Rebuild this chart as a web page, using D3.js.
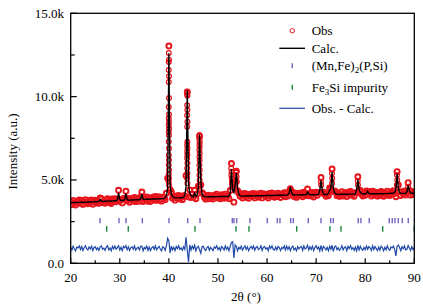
<!DOCTYPE html>
<html><head><meta charset="utf-8">
<script src="https://cdn.jsdelivr.net/npm/d3@7"></script>
<style>body{margin:0;background:#fff}svg{display:block}text{font-family:"Liberation Serif","Times New Roman",Times,serif;font-size:13px;fill:#000}</style>
</head><body><svg id="c" width="423" height="307" font-family="Liberation Serif, Times New Roman, serif"></svg>
<script>
// ---- data ----
const thetaStart = 20, thetaStep = 0.25; // 2θ sampling of the profile arrays
const calcI = [
3640,3640,3645,3645, 3650,3650,3655,3655, 3660,3660,3665,3665, 3670,3670,3675,3675, 3680,3680,3685,3685,
3690,3690,3695,3730, 3825,3735,3710,3715, 3720,3725,3730,3730, 3735,3740,3745,3745, 3750,3755,3810,4220,
3840,3765,3765,3770, 3830,4180,3830,3785, 3790,3795,3800,3800, 3805,3810,3810,3815, 3815,3860,4150,3860,
3830,3835,3840,3840, 3845,3850,3850,3855, 3855,3860,3865,3865, 3870,3875,3880,3880, 3885,3950,4050,4500,
12600,4700,4150,4000, 3950,3930,3925,3925, 3925,3930,3930,3940, 3960,4100,4600,10380, 4800,4200,4060,4010,
4000,4200,4020,4100, 4500,7720,5000,4150, 4030,4000,3990,3985, 3990,3990,3990,3995, 3995,3995,4000,4000,
4000,4000,4005,4005, 4005,4005,4010,4010, 4010,4030,4250,5640, 4400,4250,4700,5420, 4500,4150,4060,4040,
4030,4030,4035,4035, 4035,4040,4060,4040, 4040,4045,4045,4050, 4050,4050,4055,4055, 4055,4055,4060,4060,
4080,4065,4065,4070, 4070,4070,4075,4075, 4090,4080,4085,4085, 4085,4085,4090,4090, 4090,4110,4200,4580,
4250,4120,4100,4100, 4105,4105,4105,4110, 4110,4110,4110,4110, 4120,4280,4150,4120, 4115,4115,4115,4120,
4120,4120,4150,4400, 4980,4350,4150,4130, 4125,4130,4200,4400, 4500,5480,4500,4250, 4160,4140,4135,4135,
4140,4140,4140,4145, 4145,4145,4150,4150, 4150,4150,4150,4155, 4170,4400,5020,4450, 4250,4180,4160,4160,
4160,4200,4330,4200, 4170,4170,4170,4170, 4170,4170,4170,4175, 4175,4175,4175,4175, 4180,4180,4180,4190,
4190,4200,4200,4220, 4250,4450,5380,4500, 4250,4210,4195,4195, 4195,4200,4300,4680, 4350,4220,4200,4200,
4200];
// Obs. - Calc. at the same 2θ points
const residI = [
60,-110,130,-40, -150,80,20,140, -70,110,-130,30, 150,-20,-100,90, -40,120,-140,50,
100,-80,30,-130, 90,140,-60,10, -120,70,150,-90, 20,-150,110,-30, 130,-60,40,160,
-100,60,-140,120, 30,150,-80,100, -130,40,90,-60, 140,-110,10,70, -90,120,130,-150,
50,-30,140,-120, 80,-140,30,110, -60,150,-90,20, 120,-40,-150,90, 40,-130,150,600,
440,-280,130,-90, 60,-140,110,-20, 150,-70,30,-120, 90,-60,660,-100, -820,200,-110,140,
-30,180,-150,60, 120,-90,-300,80, 130,-50,-140,40, 100,-120,60,-30, -140,90,10,150,
-80,40,-130,110, 20,-100,140,-60, 70,-150,120,350, 390,-580,200,100, -150,60,-40,130,
-110,30,150,-70, 90,-140,20,120, -30,140,-120,50, 110,-80,-20,150, -130,70,100,-50,
40,-150,130,-10, 150,-60,-110,80, -90,120,40,-140, 60,-20,140,-100, 130,-70,100,-140,
50,140,-90,20, -150,100,-30,70, 110,-120,150,-40, 20,180,-100,90, -70,130,-140,60,
150,-40,80,-160, 170,-130,110,30, -100,60,-150,120, -60,180,-190,90, 140,-80,30,-120,
-30,150,-100,50, 90,-140,120,-20, 160,-60,40,-130, 70,-160,170,-100, 120,-40,-120,60,
-80,140,-60,110, 30,-130,150,-70, 100,-20,-140,80, -110,130,40,-150, 60,-90,150,-40,
-120,80,20,130, -60,-460,120,200, 50,-140,90,-30, 140,-100,-60,160, 20,-130,110,-80,
40];
// extra observed points on the steep peak flanks
const peakObsTheta = [
39.98,40.02,39.97,40.03,39.98,40.02,39.97,40.03,39.98,40.02,39.97,40.03,39.98,40.02,39.97,40.03,39.98,40.02,39.97,40.03,39.98,40.02,39.97,40.03,39.98,
43.73,43.77,43.72,43.78,43.73,43.77,43.72,43.78,43.73,43.77,43.72,43.78,43.73,43.77,43.72,43.78,43.73,43.77,43.72,43.78,
46.23,46.27,46.22,46.28,46.23,46.27,46.22,46.28,46.23,46.27,46.22,46.28,46.23,46.27,46.22,
52.70,52.78,52.72,52.80,52.85,52.90,53.60,53.65,53.70,53.72,53.80,53.85,53.10,53.40,53.30,53.55,
64.72,70.98,71.03,73.22,73.28,73.24,78.48,78.52,86.47,86.53,86.45,88.73];
const peakObsI = [
12620,12220,12080,11220,10880,9920,9380,8930,8690,8480,8290,8090,7890,7690,7290,6890,6490,6200,5900,5600,5350,5100,4900,4700,11600,
10300,10250,10150,10050,9480,9200,8880,8500,8200,7300,7100,6900,6700,6500,6300,6000,5700,5400,5100,4800,
7700,7600,7450,7300,7150,7000,6800,6600,6400,6190,5900,5600,5300,5000,4700,
5700,5500,5300,5100,4900,4700,5000,5300,5450,5500,5200,4900,4600,4800,4500,4700,
4500,4900,4700,5400,5100,4800,4950,4700,5300,5000,4700,4600];
// reflection positions
const mnfeTicks = [25.97,29.84,31.27,34.59,40.02,43.83,46.34,52.92,53.27,53.82,56.52,60.05,62.09,62.63,64.81,65.34,68.40,70.99,72.96,73.49,78.58,79.13,80.82,84.90,85.51,86.06,86.73,87.55,88.77];
const fe3siTicks = [27.33,31.73,45.32,53.67,56.32,66.04,72.82,75.06,83.56,89.99];
const diffOffset = 900;
const xTicks = [20,30,40,50,60,70,80,90];
const xMinorTicks = [25,35,45,55,65,75,85];
const yTicks = [0,5000,10000,15000];
const yTickLabels = ["0.0","5.0k","10.0k","15.0k"];
const yMinorTicks = [2500,7500,12500];

// ---- drawing ----
const svg = d3.select("#c");
const L=70.7, R=414.3, T=13.3, B=263.3;
const x = d3.scaleLinear().domain([20,90]).range([L,R]);
const y = d3.scaleLinear().domain([0,15000]).range([B,T]);
const RED="#e8141c", BLUE="#1f49a8", PURPLE="#7464c0", GREEN="#1b8a3c";
const FONT = "Liberation Serif, Times New Roman, serif";

const grid = calcI.map((c,i)=>({t: thetaStart + i*thetaStep, calc: c, resid: residI[i]}));
const obsGrid = grid.map(d=>({t:d.t, v:d.calc + d.resid}));
const obsPeak = peakObsTheta.map((t,i)=>({t, v: peakObsI[i]}));

svg.append("clipPath").attr("id","clip").append("rect").attr("x",L).attr("y",T).attr("width",R-L).attr("height",B-T);
const g = svg.append("g").attr("clip-path","url(#clip)");

g.selectAll("circle.obs").data(obsGrid).join("circle").attr("class","obs")
  .attr("cx",d=>x(d.t)).attr("cy",d=>y(d.v)).attr("r",2.5)
  .attr("fill","none").attr("stroke",RED).attr("stroke-width",1.9);
g.selectAll("circle.obsp").data(obsPeak).join("circle").attr("class","obsp")
  .attr("cx",d=>x(d.t)).attr("cy",d=>y(d.v)).attr("r",2.4)
  .attr("fill","none").attr("stroke",RED).attr("stroke-width",1.2);

g.append("path").datum(grid).attr("fill","none").attr("stroke","#000").attr("stroke-width",1.4)
  .attr("d", d3.line().x(d=>x(d.t)).y(d=>y(d.calc)));

g.append("path").datum(grid).attr("fill","none").attr("stroke",BLUE).attr("stroke-width",1.2)
  .attr("d", d3.line().x(d=>x(d.t)).y(d=>y(d.resid + diffOffset)));

g.selectAll("line.p1").data(mnfeTicks).join("line").attr("class","p1")
  .attr("x1",d=>x(d)).attr("x2",d=>x(d)).attr("y1",y(2720)).attr("y2",y(2400))
  .attr("stroke",PURPLE).attr("stroke-width",1.4);
g.selectAll("line.p2").data(fe3siTicks).join("line").attr("class","p2")
  .attr("x1",d=>x(d)).attr("x2",d=>x(d)).attr("y1",y(2240)).attr("y2",y(1900))
  .attr("stroke",GREEN).attr("stroke-width",1.4);

// frame
svg.append("rect").attr("x",L).attr("y",T).attr("width",R-L).attr("height",B-T)
  .attr("fill","none").attr("stroke","#000").attr("stroke-width",1.3);

// ticks (inward)
svg.selectAll("line.xt").data(xTicks).join("line").attr("class","xt")
  .attr("x1",d=>x(d)).attr("x2",d=>x(d)).attr("y1",B).attr("y2",B-5).attr("stroke","#000").attr("stroke-width",1.2);
svg.selectAll("line.xm").data(xMinorTicks).join("line").attr("class","xm")
  .attr("x1",d=>x(d)).attr("x2",d=>x(d)).attr("y1",B).attr("y2",B-3).attr("stroke","#000").attr("stroke-width",1.2);
svg.selectAll("text.xl").data(xTicks).join("text").attr("class","xl").attr("font-family",FONT)
  .attr("x",d=>x(d)).attr("y",281.5).attr("text-anchor","middle").text(d=>d);

svg.selectAll("line.yt").data(yTicks).join("line").attr("class","yt")
  .attr("x1",L).attr("x2",L+6).attr("y1",d=>y(d)).attr("y2",d=>y(d)).attr("stroke","#000").attr("stroke-width",1.2);
svg.selectAll("line.ym").data(yMinorTicks).join("line").attr("class","ym")
  .attr("x1",L).attr("x2",L+4).attr("y1",d=>y(d)).attr("y2",d=>y(d)).attr("stroke","#000").attr("stroke-width",1.2);
svg.selectAll("text.yl").data(yTicks).join("text").attr("class","yl").attr("font-family",FONT)
  .attr("x",64).attr("y",d=>y(d)+4.5).attr("text-anchor","end").text((d,i)=>yTickLabels[i]);

svg.append("text").attr("font-family",FONT).attr("transform","translate(16.5,151.5) rotate(-90)").attr("text-anchor","middle").text("Intensity (a.u.)");
svg.append("text").attr("font-family",FONT).attr("x",246).attr("y",301).attr("text-anchor","middle").text("2θ (°)");

// legend
const lx=292.3, tx=311.7;
svg.append("circle").attr("cx",lx).attr("cy",30.7).attr("r",2.2).attr("fill","none").attr("stroke",RED).attr("stroke-width",1);
svg.append("text").attr("font-family",FONT).attr("x",tx).attr("y",35).text("Obs");
svg.append("line").attr("x1",279.3).attr("x2",305).attr("y1",48.3).attr("y2",48.3).attr("stroke","#000").attr("stroke-width",1.4);
svg.append("text").attr("font-family",FONT).attr("x",tx).attr("y",52.6).text("Calc.");
svg.append("line").attr("x1",lx).attr("x2",lx).attr("y1",63.2).attr("y2",68.2).attr("stroke",PURPLE).attr("stroke-width",1.4);
const t3 = svg.append("text").attr("font-family",FONT).attr("x",tx).attr("y",70);
t3.append("tspan").text("(Mn,Fe)");
t3.append("tspan").attr("dy",3).attr("font-size","9px").text("2");
t3.append("tspan").attr("dy",-3).text("(P,Si)");
svg.append("line").attr("x1",lx).attr("x2",lx).attr("y1",84.8).attr("y2",89.8).attr("stroke",GREEN).attr("stroke-width",1.4);
const t4 = svg.append("text").attr("font-family",FONT).attr("x",tx).attr("y",91.6);
t4.append("tspan").text("Fe");
t4.append("tspan").attr("dy",3).attr("font-size","9px").text("3");
t4.append("tspan").attr("dy",-3).text("Si impurity");
svg.append("line").attr("x1",279.3).attr("x2",305).attr("y1",108.3).attr("y2",108.3).attr("stroke",BLUE).attr("stroke-width",1.2);
svg.append("text").attr("font-family",FONT).attr("x",tx).attr("y",112.6).text("Obs. - Calc.");
</script></body></html>
